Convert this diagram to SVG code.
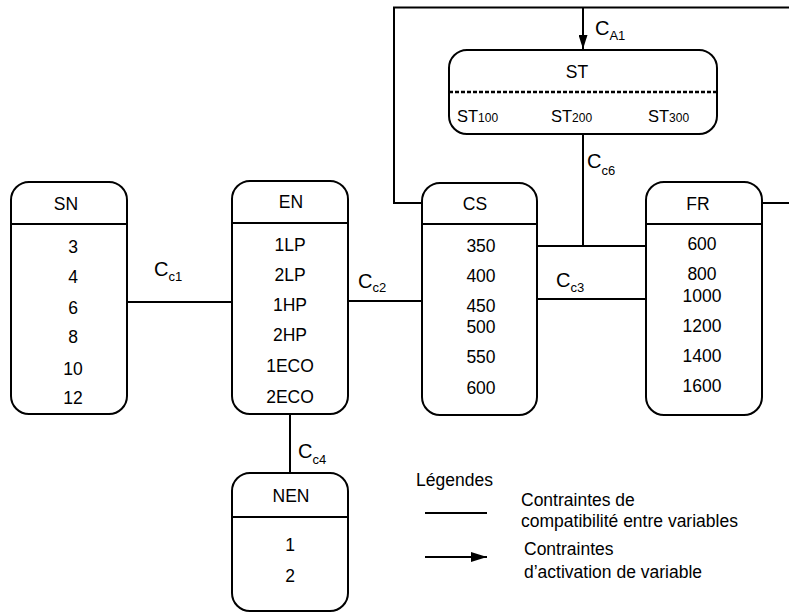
<svg xmlns="http://www.w3.org/2000/svg" width="789" height="613" viewBox="0 0 789 613">
  <defs>
    <style>
      .box { fill: #ffffff; stroke: #000000; stroke-width: 2; }
      .div { stroke: #000000; stroke-width: 2; }
      .dash { stroke: #000000; stroke-width: 2.5; stroke-dasharray: 4 2; }
      .wire { fill: none; stroke: #000000; stroke-width: 2; }
      text { font-family: "Liberation Sans", Arial, sans-serif; fill: #000000; }
      .t { font-size: 17.5px; text-anchor: middle; }
      .c { font-size: 20px; }
      .s { font-size: 13px; }
      .lg { font-size: 17.5px; }
    </style>
    <marker id="arrow" viewBox="0 0 16 10" refX="16" refY="5" markerWidth="16" markerHeight="10" markerUnits="userSpaceOnUse" orient="auto">
      <path d="M0,0 L16,5 L0,10 Z" fill="#000000"/>
    </marker>
    <marker id="arrow-s" viewBox="0 0 14 9" refX="14" refY="4.5" markerWidth="14" markerHeight="9" markerUnits="userSpaceOnUse" orient="auto">
      <path d="M0,0 L14,4.5 L0,9 Z" fill="#000000"/>
    </marker>
  </defs>

  <!-- connectors -->
  <g id="connectors">
    <line class="wire" x1="127" y1="302" x2="232" y2="302"/>
    <line class="wire" x1="348" y1="301" x2="422" y2="301"/>
    <line class="wire" x1="537" y1="246" x2="646" y2="246"/>
    <line class="wire" x1="537" y1="299" x2="646" y2="299"/>
    <line class="wire" x1="583" y1="134" x2="583" y2="246"/>
    <line class="wire" x1="290" y1="414" x2="290" y2="473"/>
    <polyline class="wire" points="422,203 394,203 394,7.5 789,7.5"/>
    <line class="wire" x1="762" y1="203" x2="789" y2="203"/>
    <line class="wire" x1="583" y1="7.5" x2="583" y2="49" marker-end="url(#arrow-s)"/>

    <text class="c" x="595" y="35">C<tspan class="s" dy="5">A1</tspan></text>
    <text class="c" x="587" y="167.5">C<tspan class="s" dy="7">c6</tspan></text>
    <text class="c" x="154" y="275.5">C<tspan class="s" dy="5">c1</tspan></text>
    <text class="c" x="358" y="288">C<tspan class="s" dy="4">c2</tspan></text>
    <text class="c" x="556" y="286.5">C<tspan class="s" dy="5">c3</tspan></text>
    <text class="c" x="298" y="458">C<tspan class="s" dy="6">c4</tspan></text>
  </g>

  <!-- ST -->
  <g id="ST">
    <rect class="box" x="449" y="50" width="268" height="84" rx="18"/>
    <line class="dash" x1="449" y1="92" x2="717" y2="92"/>
    <text class="t" x="577" y="77.5">ST</text>
    <text x="457" y="121.5" font-size="16.5">ST<tspan font-size="12">100</tspan></text>
    <text x="551" y="121.5" font-size="16.5">ST<tspan font-size="12">200</tspan></text>
    <text x="648" y="121.5" font-size="16.5">ST<tspan font-size="12">300</tspan></text>
  </g>

  <!-- SN -->
  <g id="SN">
    <rect class="box" x="11" y="182" width="116" height="232" rx="18"/>
    <line class="div" x1="11" y1="224" x2="127" y2="224"/>
    <text class="t" x="66" y="210">SN</text>
    <text class="t" x="73" y="253">3</text>
    <text class="t" x="73" y="283">4</text>
    <text class="t" x="73" y="314">6</text>
    <text class="t" x="73" y="343">8</text>
    <text class="t" x="73" y="375">10</text>
    <text class="t" x="73" y="404">12</text>
  </g>

  <!-- EN -->
  <g id="EN">
    <rect class="box" x="232" y="181" width="116" height="233" rx="18"/>
    <line class="div" x1="232" y1="223" x2="348" y2="223"/>
    <text class="t" x="291" y="208">EN</text>
    <text class="t" x="290" y="251">1LP</text>
    <text class="t" x="290" y="281">2LP</text>
    <text class="t" x="290" y="311">1HP</text>
    <text class="t" x="290" y="341">2HP</text>
    <text class="t" x="290" y="372">1ECO</text>
    <text class="t" x="290" y="403">2ECO</text>
  </g>

  <!-- CS -->
  <g id="CS">
    <rect class="box" x="422" y="183" width="115" height="232" rx="18"/>
    <line class="div" x1="422" y1="224" x2="537" y2="224"/>
    <text class="t" x="475" y="210">CS</text>
    <text class="t" x="481" y="251.5">350</text>
    <text class="t" x="481" y="281.5">400</text>
    <text class="t" x="481" y="311.5">450</text>
    <text class="t" x="481" y="333">500</text>
    <text class="t" x="481" y="363">550</text>
    <text class="t" x="481" y="394">600</text>
  </g>

  <!-- FR -->
  <g id="FR">
    <rect class="box" x="646" y="182" width="116" height="233" rx="18"/>
    <line class="div" x1="646" y1="224" x2="762" y2="224"/>
    <text class="t" x="698" y="210">FR</text>
    <text class="t" x="702" y="250">600</text>
    <text class="t" x="702" y="280">800</text>
    <text class="t" x="702" y="301.5">1000</text>
    <text class="t" x="702" y="331.5">1200</text>
    <text class="t" x="702" y="362">1400</text>
    <text class="t" x="702" y="392">1600</text>
  </g>

  <!-- NEN -->
  <g id="NEN">
    <rect class="box" x="232" y="473" width="116" height="138" rx="18"/>
    <line class="div" x1="232" y1="517" x2="348" y2="517"/>
    <text class="t" x="291" y="501.5">NEN</text>
    <text class="t" x="290" y="550.5">1</text>
    <text class="t" x="290" y="581.5">2</text>
  </g>

  <!-- legend -->
  <g id="legend">
    <text class="lg" x="416" y="486">Légendes</text>
    <line class="wire" x1="425" y1="513" x2="487" y2="513"/>
    <line class="wire" x1="425" y1="557" x2="487" y2="557" marker-end="url(#arrow)"/>
    <text class="lg" x="521" y="506">Contraintes de</text>
    <text class="lg" x="521" y="527">compatibilité entre variables</text>
    <text class="lg" x="524" y="555">Contraintes</text>
    <text class="lg" x="524" y="578">d’activation de variable</text>
  </g>
</svg>
